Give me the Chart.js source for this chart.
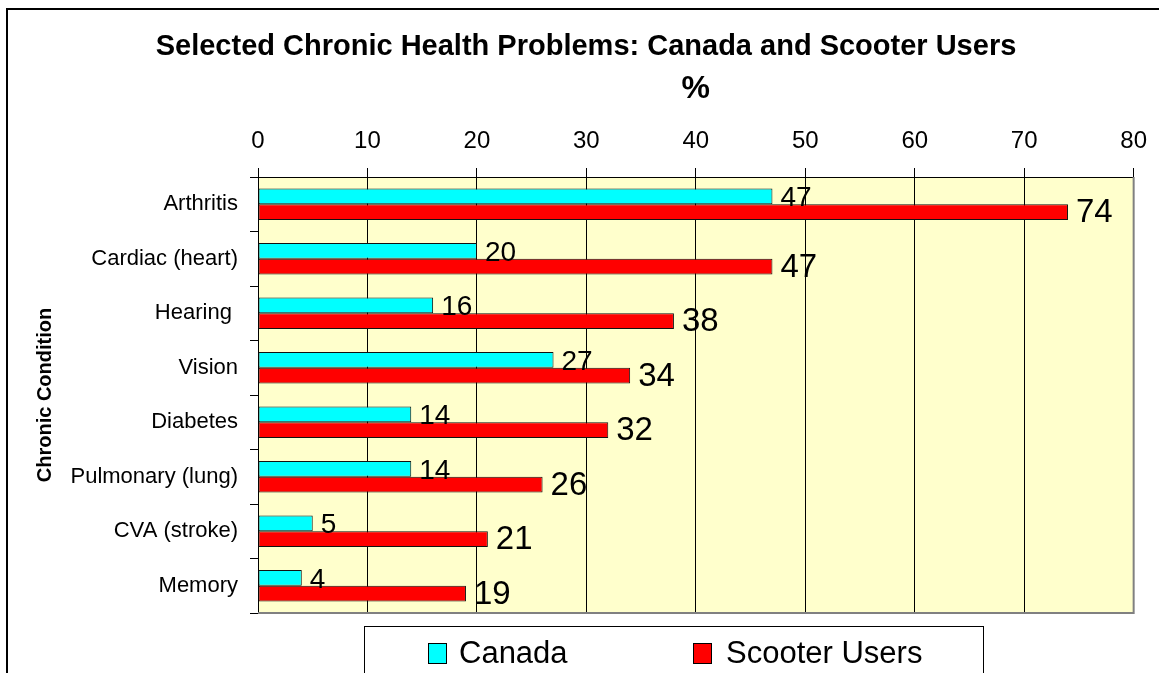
<!DOCTYPE html>
<html>
<head>
<meta charset="utf-8">
<script src="https://cdn.jsdelivr.net/npm/chart.js@4/dist/chart.umd.min.js"></script>
<style>
  body { margin: 0; background: #fff; }
  canvas { display: block; }
</style>
</head>
<body>
<canvas id="bar-chart" width="1159" height="673"></canvas>
<script>
const categories = ['Arthritis', 'Cardiac (heart)', 'Hearing ', 'Vision', 'Diabetes', 'Pulmonary (lung)', 'CVA (stroke)', 'Memory'];
const canadaValues = [47, 20, 16, 27, 14, 14, 5, 4];
const scooterValues = [74, 47, 38, 34, 32, 26, 21, 19];
const seriesNames = ['Canada', 'Scooter Users'];
const xTicks = [0, 10, 20, 30, 40, 50, 60, 70, 80];

const FONT = '"Liberation Sans", Arial, sans-serif';

// fondo amarillo del área, borde gris, título, leyenda con caja y etiquetas de valor
const decorPlugin = {
    id: 'decor',
    beforeDraw(chart) {
        const { ctx, chartArea: a } = chart;
        ctx.save();
        ctx.fillStyle = '#FFFFCC';
        ctx.fillRect(a.left, a.top, a.right - a.left, a.bottom - a.top);
        // marco exterior
        ctx.strokeStyle = '#000';
        ctx.lineWidth = 2;
        ctx.strokeRect(7, 9, 1200, 800);
        // título
        ctx.fillStyle = '#000';
        ctx.font = 'bold 29px ' + FONT;
        ctx.textAlign = 'center';
        ctx.textBaseline = 'alphabetic';
        ctx.fillText('Selected Chronic Health Problems: Canada and Scooter Users', 586, 55);
        ctx.restore();
    },
    beforeDatasetsDraw(chart) {
        const { ctx, chartArea: a } = chart;
        ctx.save();
        ctx.strokeStyle = '#808080';
        ctx.lineWidth = 2;
        ctx.beginPath();
        ctx.moveTo(a.left, a.bottom);
        ctx.lineTo(a.right, a.bottom);
        ctx.lineTo(a.right, a.top);
        ctx.stroke();
        ctx.restore();
    },
    afterDatasetsDraw(chart) {
        const { ctx } = chart;
        ctx.save();
        ctx.fillStyle = '#000';
        ctx.textAlign = 'left';
        ctx.textBaseline = 'middle';
        chart.data.datasets.forEach((ds, i) => {
            const meta = chart.getDatasetMeta(i);
            ctx.font = (i === 0 ? '28px ' : '33px ') + FONT;
            meta.data.forEach((bar, j) => {
                ctx.fillText(String(ds.data[j]), bar.x + 8, bar.y + (i === 0 ? 2 : 1));
            });
        });

        // leyenda
        ctx.strokeStyle = '#000';
        ctx.lineWidth = 1;
        ctx.strokeRect(364.5, 626.5, 619, 100);
        const items = [{ box: 428, text: 459 }, { box: 693, text: 726 }];
        ctx.font = '31px ' + FONT;
        ctx.textBaseline = 'alphabetic';
        chart.data.datasets.forEach((ds, i) => {
            ctx.fillStyle = ds.backgroundColor;
            ctx.fillRect(items[i].box, 643, 18, 20);
            ctx.strokeStyle = '#000';
            ctx.strokeRect(items[i].box + 0.5, 643.5, 18, 20);
            ctx.fillStyle = '#000';
            ctx.fillText(ds.label, items[i].text, 663);
        });
        ctx.restore();
    }
};

new Chart(document.getElementById('bar-chart'), {
    type: 'bar',
    data: {
        labels: categories,
        datasets: [{
            label: seriesNames[0],
            data: canadaValues,
            backgroundColor: '#00FFFF',
            borderColor: '#111',
            borderWidth: 1,
            borderSkipped: false
        }, {
            label: seriesNames[1],
            data: scooterValues,
            backgroundColor: '#FF0000',
            borderColor: '#111',
            borderWidth: 1,
            borderSkipped: false
        }]
    },
    options: {
        indexAxis: 'y',
        responsive: false,
        animation: false,
        devicePixelRatio: 1,
        layout: { padding: { top: 60, left: 0, right: 22, bottom: 60 } },
        categoryPercentage: 0.58,
        barPercentage: 1,
        plugins: {
            legend: { display: false },
            title: { display: false },
            tooltip: { enabled: false }
        },
        scales: {
            x: {
                position: 'top',
                min: 0,
                max: 80,
                afterBuildTicks: (axis) => { axis.ticks = xTicks.map(v => ({ value: v })); },
                afterFit: (axis) => { axis.height = 117; },
                grid: {
                    color: (c) => (c.tick && c.tick.value === 80 ? '#808080' : '#000'),
                    tickColor: '#000',
                    tickLength: 9,
                    lineWidth: 1
                },
                border: { color: '#000', width: 1 },
                ticks: {
                    color: '#000',
                    font: { family: FONT, size: 24 },
                    padding: 12,
                    maxRotation: 0
                },
                title: {
                    display: true,
                    text: '%',
                    color: '#000',
                    font: { family: FONT, size: 32, weight: 'bold' },
                    padding: { top: 10, bottom: 0 }
                }
            },
            y: {
                afterFit: (axis) => { axis.width = 258; },
                grid: {
                    drawOnChartArea: false,
                    color: '#000',
                    tickLength: 8
                },
                border: { color: '#000', width: 1 },
                ticks: {
                    color: '#000',
                    font: { family: FONT, size: 22 },
                    padding: 12
                },
                title: {
                    display: true,
                    text: 'Chronic Condition',
                    color: '#000',
                    font: { family: FONT, size: 20, weight: 'bold' },
                    padding: { top: 33, bottom: 0 }
                }
            }
        }
    },
    plugins: [decorPlugin]
});
</script>
</body>
</html>
